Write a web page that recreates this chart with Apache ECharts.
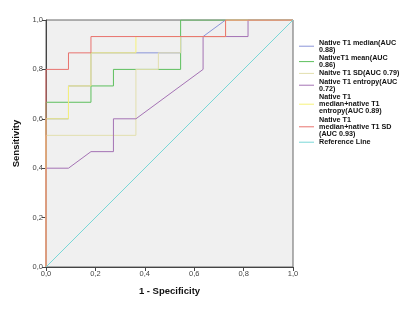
<!DOCTYPE html>
<html>
<head>
<meta charset="utf-8">
<script src="https://cdn.jsdelivr.net/npm/echarts@6/dist/echarts.min.js"></script>
<style>
  html, body { margin: 0; padding: 0; background: #fff; }
  #chart { width: 400px; height: 320px; }
</style>
</head>
<body>
<div id="chart"></div>
<script>
// ROC 曲线各模型的点 (1 - Specificity, Sensitivity)
var axisTicks = [0, 0.2, 0.4, 0.6, 0.8, 1.0];

var medianPts = [[0,0],[0,0.6],[0.091,0.6],[0.091,0.733],[0.182,0.733],[0.182,0.867],[0.545,0.867],[0.545,0.933],[0.636,0.933],[0.727,1],[1,1]];
var meanPts = [[0,0],[0,0.667],[0.182,0.667],[0.182,0.733],[0.273,0.733],[0.273,0.8],[0.545,0.8],[0.545,1],[1,1]];
var sdPts = [[0,0],[0,0.533],[0.364,0.533],[0.364,0.8],[0.455,0.8],[0.455,0.867],[0.545,0.867],[0.545,0.933],[0.727,0.933],[0.727,1],[1,1]];
var entropyPts = [[0,0],[0,0.4],[0.091,0.4],[0.182,0.467],[0.273,0.467],[0.273,0.6],[0.364,0.6],[0.636,0.8],[0.636,0.933],[0.818,0.933],[0.818,1],[1,1]];
var medEntropyPts = [[0,0],[0,0.6],[0.091,0.6],[0.091,0.733],[0.182,0.733],[0.182,0.867],[0.364,0.867],[0.364,0.933],[0.727,0.933],[0.727,1],[1,1]];
var medSdPts = [[0,0],[0,0.8],[0.091,0.8],[0.091,0.867],[0.182,0.867],[0.182,0.933],[0.727,0.933],[0.727,1],[1,1]];
var refPts = [[0,0],[1,1]];

var seriesNames = [
    'Native T1 median(AUC\n0.88)',
    'NativeT1 mean(AUC\n0.86)',
    'Naitve T1 SD(AUC 0.79)',
    'Native T1 entropy(AUC\n0.72)',
    'Native T1\nmedian+native T1\nentropy(AUC 0.89)',
    'Native T1\nmedian+native T1 SD\n(AUC 0.93)',
    'Reference Line'
];
var seriesData = [medianPts, meanPts, sdPts, entropyPts, medEntropyPts, medSdPts, refPts];
var seriesColors = ['#8a94d8', '#5cbf5c', '#e2dfae', '#a472b4', '#f6f27a', '#e8736e', '#79d7d7'];

function fmt(v) {
    return v.toFixed(1).replace('.', ',');
}

var myChart = echarts.init(document.getElementById('chart'));

var series = [];
for (var i = 0; i < seriesData.length; i++) {
    series.push({
        name: seriesNames[i],
        type: 'line',
        data: seriesData[i],
        symbol: 'none',
        animation: false,
        lineStyle: { color: seriesColors[i], width: 1 },
        itemStyle: { color: seriesColors[i] }
    });
}

var option = {
    grid: {
        left: 46, right: 107, top: 20, bottom: 53,
        show: true,
        backgroundColor: '#f0f0f0',
        borderColor: '#666',
        borderWidth: 1
    },
    legend: {
        orient: 'vertical',
        left: 294,
        top: 34,
        itemWidth: 15,
        itemHeight: 1,
        itemGap: 1,
        icon: 'rect',
        textStyle: {
            fontFamily: 'Liberation Sans',
            fontWeight: 'bold',
            fontSize: 7.2,
            lineHeight: 7.2,
            color: '#111'
        },
        data: seriesNames
    },
    xAxis: {
        type: 'value',
        min: 0, max: 1, interval: 0.2,
        name: '1 - Specificity',
        nameLocation: 'middle',
        nameGap: 19,
        nameTextStyle: { fontFamily: 'Liberation Sans', fontWeight: 'bold', fontSize: 9.5, color: '#111' },
        axisLine: { lineStyle: { color: '#444' } },
        axisTick: { length: 4, lineStyle: { color: '#444' } },
        axisLabel: { formatter: fmt, fontFamily: 'Liberation Sans', fontSize: 7.5, color: '#444', margin: 3 },
        splitLine: { show: false }
    },
    yAxis: {
        type: 'value',
        min: 0, max: 1, interval: 0.2,
        name: 'Sensitivity',
        nameLocation: 'middle',
        nameGap: 22,
        nameTextStyle: { fontFamily: 'Liberation Sans', fontWeight: 'bold', fontSize: 9.5, color: '#111' },
        axisLine: { lineStyle: { color: '#444' } },
        axisTick: { length: 4, lineStyle: { color: '#444' } },
        axisLabel: { formatter: fmt, fontFamily: 'Liberation Sans', fontSize: 7.5, color: '#444', margin: 3 },
        splitLine: { show: false }
    },
    series: series
};

myChart.setOption(option);
</script>
</body>
</html>
